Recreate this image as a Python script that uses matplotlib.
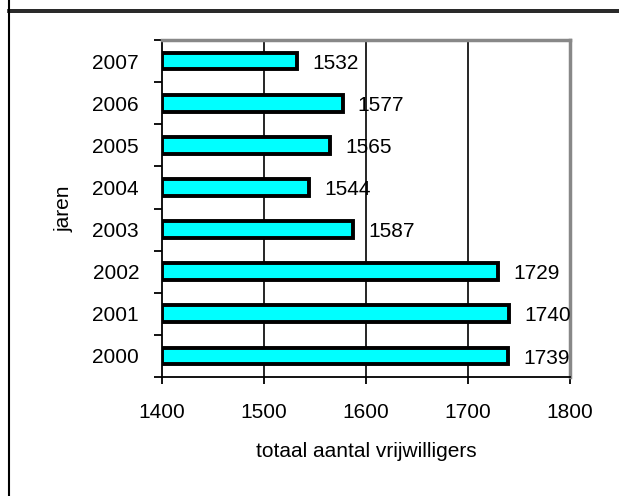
import matplotlib
matplotlib.use("Agg")
import matplotlib.pyplot as plt
from matplotlib.lines import Line2D
import numpy as np

plt.rcParams['font.family'] = ['Liberation Sans', 'DejaVu Sans']

years = ['2000', '2001', '2002', '2003', '2004', '2005', '2006', '2007']
values = [1739, 1740, 1729, 1587, 1544, 1565, 1577, 1532]
xticks = [1400, 1500, 1600, 1700, 1800]

W, H = 619, 496
FS = 15
fig = plt.figure(figsize=(W / 100, H / 100), dpi=100)
ax = fig.add_axes([162 / W, 1 - 377 / H, (570 - 162) / W, (377 - 40) / H])

y = np.arange(len(years))
ax.barh(y, [v - 1400 for v in values], left=1400, height=0.4,
        color='#00FFFF', edgecolor='black', linewidth=2.8, zorder=3)

for yi, v in zip(y, values):
    ax.text(v + 15, yi - 0.05, str(v), va='center', ha='left', fontsize=FS, zorder=4)

ax.set_xlim(1400, 1800)
ax.set_ylim(-0.5, len(years) - 0.5)
ax.set_xticks(xticks)
ax.set_xticklabels([str(t) for t in xticks], fontsize=FS)
ax.tick_params(axis='x', direction='out', length=5, width=1.3, pad=14)

# category labels at centers, tick marks at boundaries
ax.set_yticks(y)
ax.set_yticklabels(years, fontsize=FS)
ax.tick_params(axis='y', which='major', length=0, pad=16.5)
ax.set_yticks(np.arange(-0.5, len(years)), minor=True)
ax.tick_params(axis='y', which='minor', direction='out', length=6, width=1.3)

for g in xticks[1:-1]:
    ax.axvline(g, color='black', linewidth=1.2, zorder=1)

ax.spines['left'].set_color('black')
ax.spines['left'].set_linewidth(1.3)
ax.spines['bottom'].set_color('black')
ax.spines['bottom'].set_linewidth(1.3)
ax.spines['top'].set_color('#888888')
ax.spines['top'].set_linewidth(2.5)
ax.spines['right'].set_color('#888888')
ax.spines['right'].set_linewidth(2.5)

ax.set_xlabel('totaal aantal vrijwilligers', fontsize=FS, labelpad=14)
ax.set_ylabel('jaren', fontsize=FS)
ax.yaxis.set_label_coords((74 - 162) / 408, 0.5)

# figure border lines
fig.add_artist(Line2D([8.5 / W, 8.5 / W], [0, 1], color='black', linewidth=1.5,
                      transform=fig.transFigure))
for yy in (9.5, 12.3):
    fig.add_artist(Line2D([8 / W, 1], [1 - yy / H, 1 - yy / H], color='black',
                          linewidth=1.2, transform=fig.transFigure))

fig.savefig('out.png', dpi=100)
